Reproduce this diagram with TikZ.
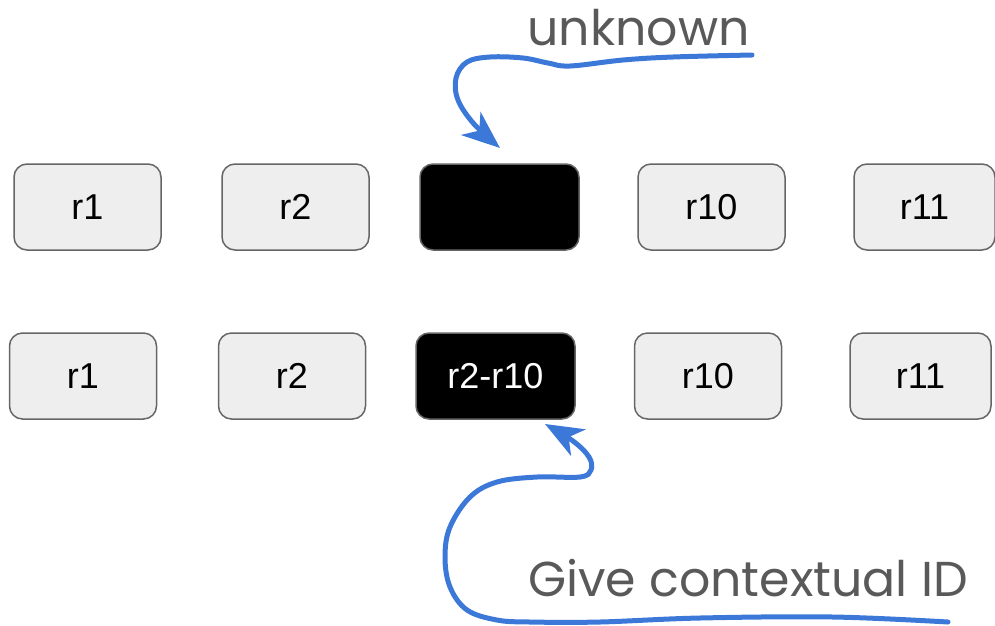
\documentclass[tikz,border=0pt]{standalone}
\usepackage{fontspec}
\setmainfont{Liberation Sans}
\newfontfamily\labfont{Poppins}
\usetikzlibrary{arrows.meta}
\definecolor{boxfill}{HTML}{EEEEEE}
\definecolor{boxline}{HTML}{666666}
\definecolor{arrowblue}{HTML}{3C78D8}
\definecolor{labgray}{HTML}{595959}
\begin{document}
\begin{tikzpicture}[x=1pt,y=-1pt,
  rbox/.style={draw=boxline, fill=boxfill, line width=1.5pt, rounded corners=13pt,
    minimum width=147pt, minimum height=86pt, inner sep=0pt,
    font=\fontsize{36}{42}\selectfont},
  hidbox/.style={rbox, fill=black, text=white, minimum width=159pt},
  lab/.style={text=labgray, font=\labfont\fontsize{49}{56}\selectfont, inner sep=0pt, anchor=base},
  curvy/.style={draw=arrowblue, line width=5pt, line cap=round,
    -{Stealth[length=38pt, width=30pt, inset=11pt]}}
]
\useasboundingbox (0,0) rectangle (995,625);
\begin{scope}
\clip (0,0) rectangle (995,625);
% row 1
\node[rbox] (a1) at (87.5,207) {r1};
\node[rbox] (a2) at (295.5,207) {r2};
\node[hidbox] (a3) at (499.5,207) {};
\node[rbox] (a4) at (711.5,207) {r10};
\node[rbox, minimum width=141pt] (a5) at (924.5,207) {r11};
% row 2
\node[rbox] (b1) at (83,376) {r1};
\node[rbox] (b2) at (292,376) {r2};
\node[hidbox] (b3) at (495.5,376) {r2-r10};
\node[rbox] (b4) at (708,376) {r10};
\node[rbox, minimum width=141pt] (b5) at (920.5,376) {r11};
\end{scope}
% labels
\node[lab] (unk) at (638.5,45) {unknown};
\node[lab] (ctx) at (748,596) {Give contextual ID};
% arrows
\coordinate (s1) at (752,55);
\coordinate (t1) at (500,148);
\coordinate (s2) at (948,622);
\coordinate (t2) at (545,424);
\draw[curvy] plot[smooth, tension=0.6] coordinates {(s1) (673,57) (623,60) (570,66) (548,63) (523,58) (490,57) (467,62) (456,78) (458,100) (474,124) (t1)};
\draw[curvy] plot[smooth, tension=0.6] coordinates {(s2) (833,617) (700,618) (600,622) (530,622) (497,620) (467,610) (450,587) (445,557) (450,527) (470,497) (497,482) (537,477) (580,477) (591,470) (589,457) (573,441) (t2)};
\end{tikzpicture}
\end{document}
